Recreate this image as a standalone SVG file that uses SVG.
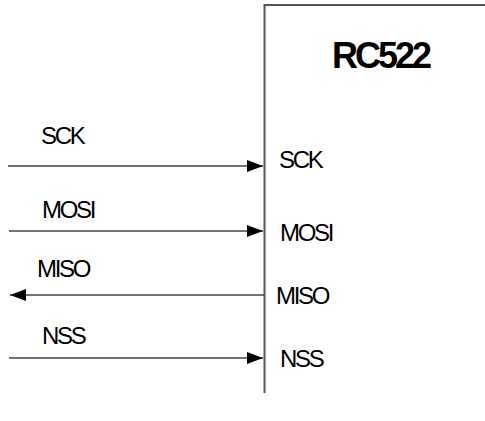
<svg xmlns="http://www.w3.org/2000/svg" width="485" height="421" viewBox="0 0 485 421">
<style>
.lbl{font-family:"Liberation Sans",Arial,sans-serif;font-size:24px;letter-spacing:-2.3px;fill:#000}
.title{font-family:"Liberation Sans",Arial,sans-serif;font-size:36px;font-weight:bold;letter-spacing:-3px;fill:#000}
.wire{stroke:#444;stroke-width:1.6;fill:none}
.box{stroke:#555;stroke-width:2;fill:none}
</style>
<defs>
<marker id="arr" markerWidth="16" markerHeight="12" refX="16" refY="6" orient="auto" markerUnits="userSpaceOnUse">
<path d="M0,0 L16,6 L0,12 Z" fill="#000"/>
</marker>
</defs>
<rect width="485" height="421" fill="#fff"/>
<g id="rc522">
<path class="box" d="M264.5,393 V5 H485"/>
<text class="title" x="332" y="68">RC522</text>
<text class="lbl" x="279" y="168">SCK</text>
<text class="lbl" x="280" y="241">MOSI</text>
<text class="lbl" x="276" y="304">MISO</text>
<text class="lbl" x="280" y="367">NSS</text>
</g>
<g id="connectors">
<line class="wire" x1="8" y1="166" x2="263" y2="166" marker-end="url(#arr)"/>
<line class="wire" x1="9" y1="231" x2="263" y2="231" marker-end="url(#arr)"/>
<line class="wire" x1="264" y1="295" x2="10" y2="295" marker-end="url(#arr)"/>
<line class="wire" x1="9" y1="358" x2="263" y2="358" marker-end="url(#arr)"/>
</g>
<g id="labels">
<text class="lbl" x="41" y="144">SCK</text>
<text class="lbl" x="42" y="218">MOSI</text>
<text class="lbl" x="37" y="277">MISO</text>
<text class="lbl" x="42" y="344">NSS</text>
</g>
</svg>
